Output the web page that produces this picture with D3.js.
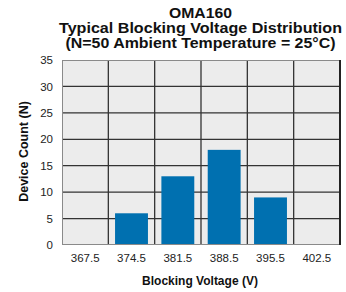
<!DOCTYPE html>
<html><head><meta charset="utf-8">
<script src="https://cdn.jsdelivr.net/npm/d3@7"></script>
<style>body{margin:0;background:#fff}svg{display:block}text{font-family:"Liberation Sans",Arial,sans-serif}</style>
</head><body>
<script>
const categories = ["367.5","374.5","381.5","388.5","395.5","402.5"];
const counts = [0, 6, 13, 18, 9, 0];
const yTicks = [0,5,10,15,20,25,30,35];
const titleLines = ["OMA160","Typical Blocking Voltage Distribution","(N=50 Ambient Temperature = 25\u00B0C)"];
const titleWidths = [63, 283, 270];

const W=346,H=292;
const m={left:62,right:6,top:60,bottom:47};
const svg=d3.select("body").append("svg").attr("width",W).attr("height",H);
const x=d3.scaleBand().domain(categories).range([m.left,W-m.right]).paddingInner(0.29).paddingOuter(0.145);
const xb=d3.scaleBand().domain(categories).range([m.left,W-m.right]);
const y=d3.scaleLinear().domain([0,35]).range([H-m.bottom,m.top]);

svg.append("rect").attr("x",m.left).attr("y",m.top).attr("width",W-m.left-m.right).attr("height",H-m.top-m.bottom).attr("fill","#ececec");
svg.append("g").selectAll("line").data(yTicks.slice(1,-1)).join("line")
 .attr("x1",m.left).attr("x2",W-m.right).attr("y1",d=>y(d)).attr("y2",d=>y(d))
 .attr("stroke","#333").attr("stroke-width",1.3);
svg.append("g").selectAll("line").data(categories.slice(1)).join("line")
 .attr("x1",d=>xb(d)).attr("x2",d=>xb(d)).attr("y1",m.top).attr("y2",H-m.bottom)
 .attr("stroke","#333").attr("stroke-width",1.3);
svg.append("g").selectAll("rect").data(categories).join("rect")
 .attr("x",d=>x(d)).attr("width",x.bandwidth())
 .attr("y",(d,i)=>y(counts[i])).attr("height",(d,i)=>y(0)-y(counts[i]))
 .attr("fill","#0070b0");
svg.append("rect").attr("x",m.left+0.5).attr("y",m.top+0.5).attr("width",W-m.left-m.right-1).attr("height",H-m.top-m.bottom-1)
 .attr("fill","none").attr("stroke","#8a8a8a").attr("stroke-width",1);
svg.append("line").attr("x1",W-m.right).attr("x2",W-m.right).attr("y1",m.top).attr("y2",H-m.bottom)
 .attr("stroke","#222").attr("stroke-width",2);

const ya=svg.append("g").attr("transform",`translate(${m.left},0)`).call(d3.axisLeft(y).tickValues(yTicks).tickSize(0).tickPadding(9));
ya.select(".domain").remove();
ya.selectAll("text").attr("font-size",11.5).attr("fill","#222").style("font-family","Liberation Sans, Arial, sans-serif");
const xa=svg.append("g").attr("transform",`translate(0,${H-m.bottom})`).call(d3.axisBottom(xb).tickSize(0).tickPadding(9));
xa.select(".domain").remove();
xa.selectAll("text").attr("font-size",11.5).attr("fill","#222").style("font-family","Liberation Sans, Arial, sans-serif");

svg.append("g").selectAll("text").data(titleLines).join("text")
 .attr("x",200.5).attr("y",(d,i)=>18.3+i*14.7).attr("text-anchor","middle")
 .attr("font-size",14.5).attr("font-weight","bold").attr("fill","#111")
 .attr("textLength",(d,i)=>titleWidths[i]).attr("lengthAdjust","spacingAndGlyphs").text(d=>d);
svg.append("text").attr("x",200).attr("y",284.5).attr("text-anchor","middle")
 .attr("font-size",12).attr("font-weight","bold").attr("fill","#111").text("Blocking Voltage (V)");
svg.append("text").attr("transform",`translate(27.5,151.5) rotate(-90)`).attr("text-anchor","middle")
 .attr("font-size",12.5).attr("font-weight","bold").attr("fill","#111").text("Device Count (N)");
</script>
</body></html>
